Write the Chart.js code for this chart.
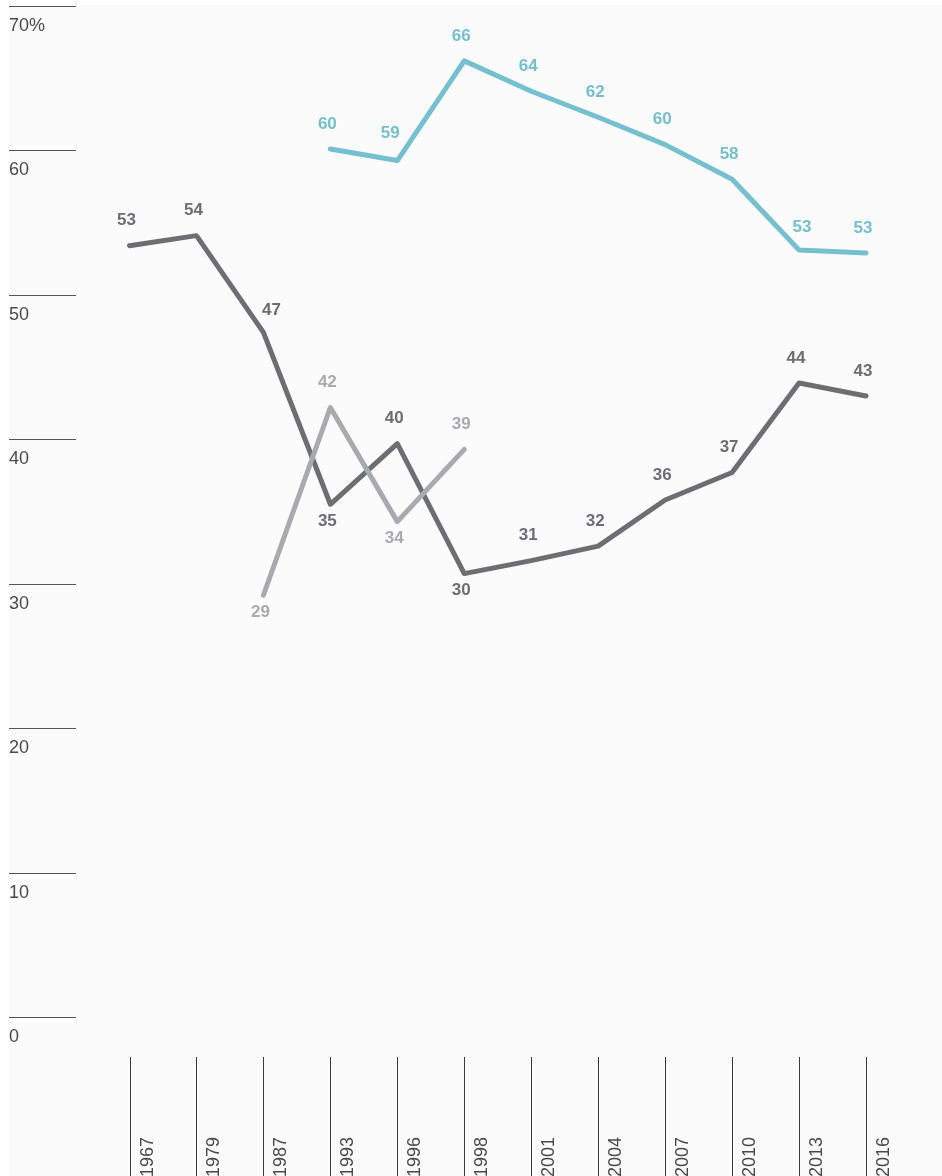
<!DOCTYPE html>
<html>
<head>
<meta charset="utf-8">
<script src="https://cdn.jsdelivr.net/npm/chart.js@4.4.1/dist/chart.umd.min.js"></script>
<style>
  html, body { margin: 0; padding: 0; background: #ffffff; }
  canvas { display: block; }
</style>
</head>
<body>
<canvas id="chart" width="942" height="1176"></canvas>
<script>
// Survey years on the x axis
const years = ['1967', '1979', '1987', '1993', '1996', '1998', '2001', '2004', '2007', '2010', '2013', '2016'];

// Plotted values and the printed labels
const darkValues  = [53.4, 54.1, 47.4, 35.5, 39.7, 30.7, 31.6, 32.6, 35.8, 37.7, 43.9, 43.0];
const darkLabels  = ['53', '54', '47', '35', '40', '30', '31', '32', '36', '37', '44', '43'];

const lightValues = [null, null, 29.2, 42.2, 34.3, 39.3, null, null, null, null, null, null];
const lightLabels = [null, null, '29', '42', '34', '39', null, null, null, null, null, null];

const blueValues  = [null, null, null, 60.1, 59.3, 66.2, 64.1, 62.3, 60.4, 58.0, 53.1, 52.9];
const blueLabels  = [null, null, null, '60', '59', '66', '64', '62', '60', '58', '53', '53'];

const yTicks = [0, 10, 20, 30, 40, 50, 60, 70];

const FONT = '"Liberation Sans", Arial, Helvetica, sans-serif';
const DARK = '#6d6e72';
const LIGHT = '#a9aaad';
const BLUE = '#75c0cf';

// Draws background, the short y gridlines, the x tick lines and rotated year labels
const axesPlugin = {
    id: 'customAxes',
    beforeDraw(chart) {
        const ctx = chart.ctx;
        const x = chart.scales.x;
        const y = chart.scales.y;
        ctx.save();
        ctx.fillStyle = '#fbfbfb';
        ctx.fillRect(9, 5, chart.width - 9, chart.height - 5);

        ctx.strokeStyle = '#555555';
        ctx.lineWidth = 1;
        ctx.fillStyle = '#4a4a4a';
        ctx.font = '18px ' + FONT;
        ctx.textAlign = 'left';
        ctx.textBaseline = 'alphabetic';
        yTicks.forEach(v => {
            const py = Math.round(y.getPixelForValue(v)) + 0.5;
            ctx.beginPath();
            ctx.moveTo(9, py);
            ctx.lineTo(76, py);
            ctx.stroke();
            const text = v === 70 ? '70%' : String(v);
            ctx.fillText(text, 9, py + 24);
        });

        ctx.strokeStyle = '#3a3a3a';
        years.forEach((label, i) => {
            const px = Math.round(x.getPixelForValue(i)) + 0.5;
            ctx.beginPath();
            ctx.moveTo(px, 1057);
            ctx.lineTo(px, chart.height);
            ctx.stroke();
            ctx.save();
            ctx.translate(px + 22, 1177);
            ctx.rotate(-Math.PI / 2);
            ctx.fillText(label, 0, 0);
            ctx.restore();
        });
        ctx.restore();
    }
};

// Bold value labels next to each point
const valueLabelPlugin = {
    id: 'valueLabels',
    afterDatasetsDraw(chart) {
        const ctx = chart.ctx;
        ctx.save();
        ctx.font = 'bold 17px ' + FONT;
        ctx.textAlign = 'center';
        ctx.textBaseline = 'middle';
        chart.data.datasets.forEach((ds, di) => {
            const meta = chart.getDatasetMeta(di);
            ctx.fillStyle = ds.borderColor;
            meta.data.forEach((pt, i) => {
                const text = ds.valueLabels[i];
                if (!text) return;
                let dx = -3, dy = -25;
                if (ds.labelsBelow.includes(i)) dy = 17;
                if (ds.labelShift && ds.labelShift[i]) {
                    dx = ds.labelShift[i][0];
                    dy = ds.labelShift[i][1];
                }
                ctx.fillText(text, pt.x + dx, pt.y + dy);
            });
        });
        ctx.restore();
    }
};

new Chart(document.getElementById('chart'), {
    type: 'line',
    data: {
        labels: years,
        datasets: [
            {
                data: blueValues,
                valueLabels: blueLabels,
                labelsBelow: [],
                labelShift: { 4: [-7, -27], 10: [3, -23] },
                borderColor: BLUE,
                borderWidth: 5,
                pointRadius: 0,
                borderCapStyle: 'round',
                borderJoinStyle: 'round',
                tension: 0,
                clip: false
            },
            {
                data: lightValues,
                valueLabels: lightLabels,
                labelsBelow: [2, 4],
                borderColor: LIGHT,
                borderWidth: 5,
                pointRadius: 0,
                borderCapStyle: 'round',
                borderJoinStyle: 'round',
                tension: 0,
                clip: false
            },
            {
                data: darkValues,
                valueLabels: darkLabels,
                labelsBelow: [3, 5],
                labelShift: { 2: [8, -22] },
                borderColor: DARK,
                borderWidth: 5,
                pointRadius: 0,
                borderCapStyle: 'round',
                borderJoinStyle: 'round',
                tension: 0,
                clip: false
            }
        ]
    },
    options: {
        responsive: false,
        devicePixelRatio: 1,
        animation: false,
        layout: { padding: { left: 129.5, right: 76, top: 6, bottom: 159 } },
        plugins: {
            legend: { display: false },
            tooltip: { enabled: false }
        },
        scales: {
            x: { type: 'category', offset: false, display: false },
            y: { min: 0, max: 70, display: false }
        }
    },
    plugins: [axesPlugin, valueLabelPlugin]
});
</script>
</body>
</html>
